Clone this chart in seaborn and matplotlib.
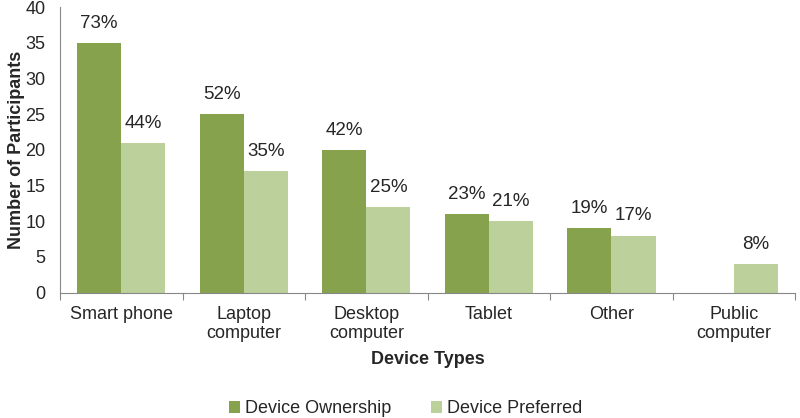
#!/usr/bin/env python3

import matplotlib.pyplot as plt
import matplotlib.ticker as ticker
import numpy as np
import pandas as pd
import seaborn as sns

devices = [
    "Smart phone",
    "Laptop\ncomputer",
    "Desktop\ncomputer",
    "Tablet",
    "Other",
    "Public\ncomputer",
]
ownership = [35, 25, 20, 11, 9, 0]
preferred = [21, 17, 12, 10, 8, 4]
ownership_pct = ["73%", "52%", "42%", "23%", "19%", ""]
preferred_pct = ["44%", "35%", "25%", "21%", "17%", "8%"]
series = ["Device Ownership", "Device Preferred"]
colors = ["#87A24C", "#BBD09A"]

sns.set_style("white")
plt.rcParams["font.family"] = ["Liberation Sans", "DejaVu Sans"]
plt.rcParams["font.size"] = 13

FS = 13


def build_frame() -> pd.DataFrame:
    return pd.DataFrame(
        {
            "device": devices * 2,
            "count": ownership + preferred,
            "series": [series[0]] * len(devices) + [series[1]] * len(devices),
        }
    )


def main() -> None:
    df = build_frame()
    fig = plt.figure(figsize=(8, 4.18), dpi=100)
    ax = fig.add_axes([0.075, 0.30, 0.919, 0.683])

    sns.barplot(
        ax=ax,
        data=df,
        x="device",
        y="count",
        hue="series",
        order=devices,
        hue_order=series,
        palette=colors,
        width=0.72,
        gap=0,
        saturation=1,
        linewidth=0,
        errorbar=None,
    )

    for container, labels in zip(ax.containers, [ownership_pct, preferred_pct]):
        ax.bar_label(container, labels=labels, padding=8, fontsize=FS + 0.5)

    ax.set_ylim(0, 40)
    ax.set_xlim(-0.5, len(devices) - 0.5)
    ax.yaxis.set_major_locator(ticker.MultipleLocator(5))
    ax.tick_params(axis="y", left=False, labelsize=FS, pad=7)
    ax.tick_params(axis="x", bottom=False, labelsize=FS, pad=6)

    # Excel-style tick marks between categories
    ax.set_xticks(np.arange(len(devices) + 1) - 0.5, minor=True)
    ax.tick_params(
        axis="x", which="minor", bottom=True, length=5, width=0.8, color="#888888"
    )

    for side in ["top", "right"]:
        ax.spines[side].set_visible(False)
    for side in ["left", "bottom"]:
        ax.spines[side].set_color("#888888")
        ax.spines[side].set_linewidth(0.8)

    ax.set_xlabel("Device Types", fontweight="bold", fontsize=FS, labelpad=6)
    ax.set_ylabel("Number of Participants", fontweight="bold", fontsize=FS, labelpad=0)

    ax.legend(
        loc="upper center",
        bbox_to_anchor=(0.47, -0.32),
        ncol=2,
        frameon=False,
        fontsize=FS,
        handlelength=0.6,
        handleheight=0.6,
        handletextpad=0.3,
        columnspacing=2.2,
    )

    fig.savefig("out.png", dpi=100)


if __name__ == "__main__":
    main()
